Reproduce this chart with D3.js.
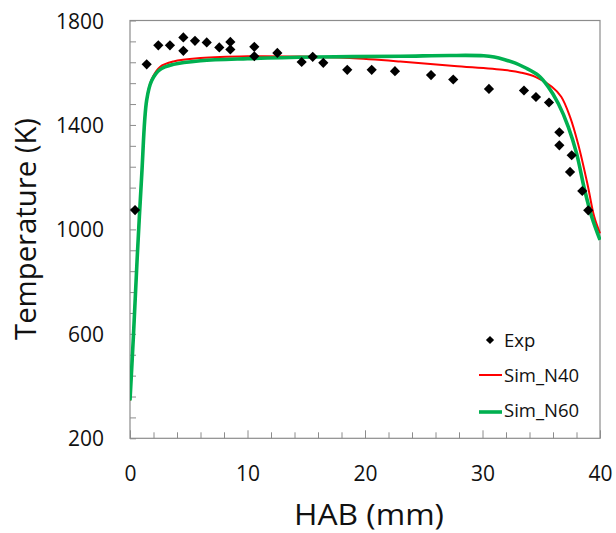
<!DOCTYPE html>
<html>
<head>
<meta charset="utf-8">
<script src="https://cdn.jsdelivr.net/npm/d3@7"></script>
<style>
  html, body { margin: 0; padding: 0; background: #fff; }
  svg { display: block; font-family: "Open Sans", "Liberation Sans", sans-serif; }
</style>
</head>
<body>
<svg id="chart" width="616" height="533"></svg>
<script>
// ---- data ----
const expHAB = [0.43, 1.42, 2.41, 3.40, 4.54, 4.54, 5.53, 6.53, 7.60, 8.54, 8.54, 10.58, 10.58, 12.54, 14.61, 15.55, 16.45, 18.49, 20.57, 22.55, 25.62, 27.51, 30.55, 33.53, 34.55, 35.66, 36.54, 36.54, 37.59, 37.45, 38.49, 39.0];
const expT   = [1074, 1632, 1705, 1705, 1735, 1684, 1722, 1716, 1697, 1718, 1689, 1699, 1663, 1676, 1641, 1661, 1638, 1611, 1611, 1606, 1591, 1574, 1538, 1532, 1507, 1486, 1372, 1322, 1284, 1220, 1147, 1073];

const n40HAB = [0, 0.3, 0.6, 1.0, 1.42, 1.85, 2.55, 3.7, 6, 10, 14.5, 18.7, 23, 27.6, 31.9, 33.3, 34.5, 35.9, 36.7, 37.45, 38.15, 38.95, 39.5, 40];
const n40T   = [345, 600, 880, 1210, 1495, 1575, 1622, 1643, 1656, 1663, 1662, 1656, 1643, 1626, 1610, 1600, 1584, 1546, 1508, 1431, 1325, 1170, 1050, 985];

const n60HAB = [0, 0.3, 0.6, 1.0, 1.42, 1.85, 2.55, 3.7, 6, 10, 15.9, 23, 27.2, 30.1, 31.0, 31.9, 32.8, 33.6, 34.75, 35.6, 36.45, 37.3, 38.0, 38.7, 39.3, 40];
const n60T   = [345, 600, 880, 1210, 1495, 1570, 1612, 1632, 1646, 1654, 1660, 1663, 1666, 1665, 1660, 1650, 1637, 1620, 1590, 1546, 1482, 1393, 1292, 1150, 1048, 960];

const xMajorTicks = [0, 10, 20, 30, 40];
const yMajorTicks = [200, 600, 1000, 1400, 1800];
const seriesNames = ["Exp", "Sim_N40", "Sim_N60"];
const xTitle = "HAB (mm)";
const yTitle = "Temperature (K)";

// ---- layout ----
const svg = d3.select("#chart");
const L = 130, R = 600, T = 20.5, B = 438.3;
const x = d3.scaleLinear().domain([0, 40]).range([L, R]);
const y = d3.scaleLinear().domain([200, 1800]).range([B, T]);
const axisColor = "#8c8c8c";

// frame
svg.append("rect").attr("x", L).attr("y", T).attr("width", R - L).attr("height", B - T)
  .attr("fill", "none").attr("stroke", axisColor).attr("stroke-width", 1.2);

// y axis ticks
const yMinor = d3.range(200, 1801, 80);
const gy = svg.append("g").attr("transform", `translate(${L},0)`)
  .call(d3.axisLeft(y).tickValues(yMinor).tickSize(-6).tickPadding(26)
    .tickFormat(d => yMajorTicks.includes(d) ? d : ""));
gy.select(".domain").remove();
gy.selectAll(".tick line").attr("stroke", axisColor);
gy.selectAll(".tick text").attr("font-size", 21).attr("fill", "#111")
  .attr("font-family", "Open Sans, sans-serif").attr("dy", "0.36em");

// x axis ticks
const xMinor = d3.range(0, 41, 2).filter(d => !xMajorTicks.includes(d));
const gxm = svg.append("g").attr("transform", `translate(0,${B})`)
  .call(d3.axisBottom(x).tickValues(xMinor).tickSize(-6).tickFormat(""));
gxm.select(".domain").remove();
gxm.selectAll(".tick line").attr("stroke", axisColor);
const gx = svg.append("g").attr("transform", `translate(0,${B})`)
  .call(d3.axisBottom(x).tickValues(xMajorTicks).tickSize(-8).tickPadding(28));
gx.select(".domain").remove();
gx.selectAll(".tick line").attr("stroke", axisColor);
gx.selectAll(".tick text").attr("font-size", 21).attr("fill", "#111")
  .attr("font-family", "Open Sans, sans-serif");

// axis titles
svg.append("text").attr("x", 369).attr("y", 525).attr("text-anchor", "middle")
  .attr("font-size", 29).attr("fill", "#111")
  .attr("textLength", 150).attr("lengthAdjust", "spacingAndGlyphs").text(xTitle);
svg.append("text").attr("transform", "translate(36,229) rotate(-90)")
  .attr("text-anchor", "middle").attr("font-size", 29).attr("fill", "#111")
  .attr("textLength", 222).attr("lengthAdjust", "spacingAndGlyphs").text(yTitle);

// lines
const line = d3.line().x(d => x(d[0])).y(d => y(d[1])).curve(d3.curveCatmullRom.alpha(0.5));
const n40 = n40HAB.map((h, i) => [h, n40T[i]]);
const n60 = n60HAB.map((h, i) => [h, n60T[i]]);
svg.append("clipPath").attr("id", "clip").append("rect")
  .attr("x", L).attr("y", T).attr("width", R - L + 1).attr("height", B - T);
const plot = svg.append("g").attr("clip-path", "url(#clip)");
plot.append("path").datum(n40).attr("d", line).attr("fill", "none")
  .attr("stroke", "#ff0000").attr("stroke-width", 2);
plot.append("path").datum(n60).attr("d", line).attr("fill", "none")
  .attr("stroke", "#00b050").attr("stroke-width", 3.6);

// experimental diamonds
const diamond = d3.symbol().type(d3.symbolSquare).size(52);
svg.append("g").selectAll("path").data(expHAB.map((h, i) => [h, expT[i]])).join("path")
  .attr("d", diamond)
  .attr("transform", d => `translate(${x(d[0])},${y(d[1])}) rotate(45)`)
  .attr("fill", "#000");

// legend
const lg = svg.append("g");
lg.append("path").attr("d", d3.symbol().type(d3.symbolSquare).size(34))
  .attr("transform", "translate(490,340) rotate(45)").attr("fill", "#000");
lg.append("line").attr("x1", 479).attr("x2", 502).attr("y1", 375).attr("y2", 375)
  .attr("stroke", "#ff0000").attr("stroke-width", 2);
lg.append("line").attr("x1", 479).attr("x2", 502).attr("y1", 412).attr("y2", 412)
  .attr("stroke", "#00b050").attr("stroke-width", 3.6);
const ly = [347.3, 381.7, 417.3];
seriesNames.forEach((n, i) => {
  lg.append("text").attr("x", 504).attr("y", ly[i]).attr("font-size", 18.5)
    .attr("fill", "#111").text(n);
});
</script>
</body>
</html>
